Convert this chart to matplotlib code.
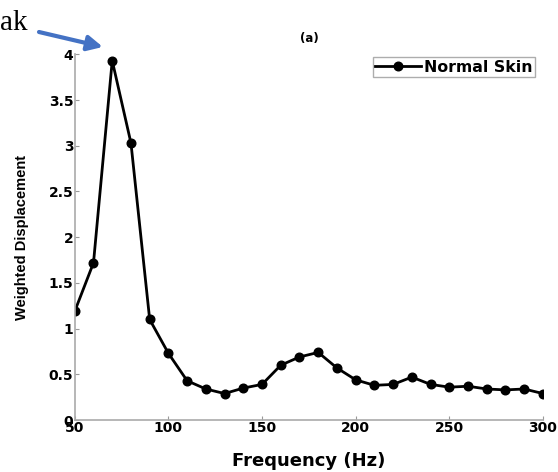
import numpy as np
import matplotlib.pyplot as plt

freq = [50, 60, 70, 80, 90, 100, 110, 120, 130, 140, 150, 160, 170,
        180, 190, 200, 210, 220, 230, 240, 250, 260, 270, 280, 290, 300]
disp = [1.19, 1.72, 3.93, 3.03, 1.10, 0.73, 0.43, 0.34, 0.29, 0.35, 0.39,
        0.60, 0.69, 0.74, 0.57, 0.44, 0.38, 0.39, 0.47, 0.39, 0.36, 0.37,
        0.34, 0.33, 0.34, 0.29]
xticks = [50, 100, 150, 200, 250, 300]
yticks = [0, 0.5, 1, 1.5, 2, 2.5, 3, 3.5, 4]
ytick_labels = ['0', '0.5', '1', '1.5', '2', '2.5', '3', '3.5', '4']

plt.rcParams['font.family'] = 'DejaVu Sans'

fig = plt.figure(figsize=(5.58, 4.72), dpi=100)
ax = fig.add_axes([0.134, 0.110, 0.839, 0.775])

ax.plot(freq, disp, color='black', lw=2, marker='o', ms=6.2,
        label='Normal Skin')

ax.set_xlim(50, 300)
ax.set_ylim(0, 4)
ax.set_xticks(xticks)
ax.set_yticks(yticks)
ax.set_yticklabels(ytick_labels)
for lab in ax.get_xticklabels() + ax.get_yticklabels():
    lab.set_fontweight('bold')
    lab.set_fontsize(10)
ax.tick_params(direction='in', length=3, color='#999999', pad=1)

for s in ['top', 'right']:
    ax.spines[s].set_visible(False)
for s in ['left', 'bottom']:
    ax.spines[s].set_color('#aaaaaa')
    ax.spines[s].set_linewidth(1.2)

ax.set_xlabel('Frequency (Hz)', fontsize=13, fontweight='bold', labelpad=12)
ax.set_ylabel('Weighted Displacement', fontsize=10.5, fontweight='bold',
              family='Liberation Sans', labelpad=14)
ax.text(175.5, 4.17, '(a)', fontsize=8.5, fontweight='bold', ha='center',
        va='center')

leg = ax.legend(loc='upper right', fontsize=11.3, frameon=True,
                fancybox=False, borderpad=0.15, handlelength=2.9,
                handletextpad=0.2, borderaxespad=0,
                bbox_to_anchor=(0.983, 0.992))
leg.get_frame().set_edgecolor('#999999')
for t in leg.get_texts():
    t.set_fontweight('bold')

# annotation arrow pointing to the peak (text is cut off at the left edge)
fig.text(28 / 558, 1 - 30 / 472, 'Peak', fontsize=21,
         family='Liberation Serif', ha='right', va='baseline')
ax.annotate('', xy=(65, 4.08), xycoords='data',
            xytext=(39 / 558, 1 - 32 / 472), textcoords='figure fraction',
            arrowprops=dict(arrowstyle='-|>,head_length=0.9,head_width=0.45',
                            color='#4472c4', lw=3, shrinkA=0, shrinkB=0),
            annotation_clip=False)

fig.savefig('out.png', dpi=100)
